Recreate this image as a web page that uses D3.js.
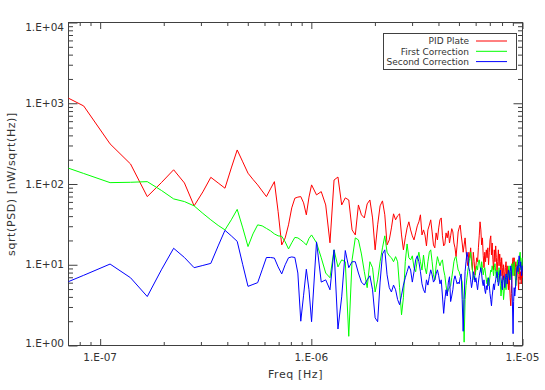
<!DOCTYPE html>
<html>
<head>
<meta charset="utf-8">
<script src="https://cdn.jsdelivr.net/npm/d3@7"></script>
<style>
body { margin: 0; background: #fff; }
svg { display: block; font-family: "DejaVu Sans", sans-serif; }
</style>
</head>
<body>
<svg id="chart"></svg>
<script>
// FFT bins: half-width bins below 1E-6 Hz, full bins above
const binHz = 5.57e-8;
const freqHz = d3.range(2, 36).map(k => k * binHz / 2)
  .concat(d3.range(18, 181).map(k => k * binHz));

const pidPlate = [
  1590, 926, 314, 177, 69.8, 104, 150, 103, 53.6, 79.8, 121, 103, 88.7, 158, 264, 188, 136,
  114, 97.5, 82, 69.8, 87, 107, 45.4, 17.6, 21.5, 31.2, 50.6, 66.7, 68.8, 69.8, 58.4, 41.5, 68.8,
  97.5, 73.3, 80.5, 55, 18.7, 112, 122, 55, 67.3, 63.4, 27, 23.4, 55, 41.5, 38, 56.7, 63.4, 38,
  15.3, 31.2, 53.6, 61.8, 41.5, 17.6, 20.3, 28.6, 42.7, 36, 40.4, 42.7, 23.4, 15.3, 21.5, 28.6,
  34, 27, 22.8, 20.3, 24.8, 30.3, 34, 41.5, 23.4,
  27, 23.4, 17.1, 27, 31, 36, 25.5, 17.6, 16.2, 24.8,
  20.3, 28.6, 36, 38, 22.8, 17.1, 18, 24.8, 21.5, 26.3,
  18.6, 22.8, 28, 25.5, 18.6, 16.2, 12.6, 17.6, 25.5, 28.6,
  31, 23.4, 18.6, 14.3, 17.6, 21.5, 15.3, 11.2, 9.7, 14.3,
  12.2, 16.2, 10.9, 8.6, 14.3, 10.9, 7.5, 9.7, 12.2, 10.9,
  16.2, 22.8, 34, 27, 17.6, 21.5, 12.9, 9.2, 14.3, 10.9,
  15.3, 12.2, 16.2, 10, 14.3, 20.3, 22.8, 13.2, 18.6, 11.5,
  8.6, 15.3, 10.9, 17.1, 12.2, 8.2, 10.9, 15.3, 9.7, 13.6,
  10.9, 7.3, 12.2, 9.2, 6.5, 10, 8.2, 5.8, 9.2, 10.9,
  7.5, 9.7, 6.1, 4.9, 8.2, 5.6, 3.9, 3.1, 4.4, 6.9,
  10.9, 12.2, 9.2, 12.2, 7.3, 9.2, 10.9, 6.5, 8.6, 10.3,
  6.9, 4.9, 7.3, 9.2, 6.5, 8.2, 5.8, 8.6, 6.9, 7.5
];

const firstCorrection = [
  195, 135, 104, 105, 107, 83.3, 65.4, 60.6, 53.6, 43.3, 36, 30.7, 27, 36, 48.5, 28.6, 16.8,
  24.1, 31.2, 30.3, 28.2, 26.3, 24.1, 22.8, 22.5, 19.2, 15.7, 18.7, 21.8, 21.5, 20.3, 19, 17.6, 21.2,
  23.4, 18.7, 12.2, 7.9, 6.9, 15.3, 9.4, 11.5, 10.9, 1.3, 11.5, 21.5, 20.3, 13.6, 8.2, 5.2, 10.9, 9.2,
  4.6, 6.5, 10.9, 16.2, 22.8, 14.3, 12.9, 12.2, 10.9, 12.6, 10.9, 5.2, 2.4, 3.9, 10.9, 18.1,
  12.2, 11.5, 12.9, 9.2, 8.2, 11.5, 14.3, 10.9, 8.6,
  13.2, 9.2, 7.7, 10.9, 14.3, 15.3, 10.9, 7.5, 6.5, 9.7,
  12.6, 10.9, 9.7, 10.9, 11.5, 8.6, 7.3, 5.5, 4.4, 4.9,
  5.3, 5.5, 6.9, 8.6, 10.9, 12.2, 12.6, 10.3, 8.6, 8.2,
  7.3, 6.9, 6.1, 3.7, 1.1, 3.7, 5.5, 6.9, 8.6, 10.3,
  12.2, 14.3, 10.9, 8.6, 7.3, 6.5, 7.3, 8.6, 9.7, 8.6,
  10.9, 11.5, 9.7, 8.2, 10.9, 9.2, 7.5, 8.6, 9.2, 7.7,
  6.5, 5.8, 6.9, 5.5, 6.1, 7.3, 8.6, 8.2, 9.7, 8.6,
  7.3, 9.2, 10.3, 8.2, 6.9, 8.6, 6.1, 7.3, 9.2, 7.7,
  5.6, 4.1, 4.9, 6.5, 5.5, 3.7, 4.6, 6.9, 5.8, 4.9,
  6.1, 7.7, 6.9, 8.6, 9.7, 7.7, 6.5, 8.2, 9.2, 10.3,
  8.6, 7.3, 9.7, 10.9, 8.6, 6.9, 5.5, 7.3, 9.7, 11.5,
  9.2, 7.7, 10.9, 12.9, 14.3, 10.9, 8.6, 10.9, 12.2, 9.7
];

const secondCorrection = [
  4.77, 7.4, 10.2, 6.9, 4.04, 8.65, 16, 12.3, 9.2, 9.8, 10.4, 17.1, 26.7, 22.8, 19.5, 10, 5.4,
  5.7, 6.0, 8.65, 12.3, 12.3, 12.1, 9.4, 7.7, 10, 12.2, 12.5, 12.3, 7.9, 2.0, 4.2, 8.8, 4.9,
  1.97, 19.2, 6.1, 6.5, 4.9, 15.3, 1.6, 4.0, 15, 9.2, 10.9, 10.9, 7.9, 6.1, 5.6, 6.5, 7.3, 4.9,
  2.2, 1.97, 6.1, 13.6, 15.3, 7.5, 5.2, 4.6, 5.6, 4.9, 3.7, 3.2, 4.2, 5.6, 6.9, 8.2,
  9.7, 8.6, 6.1, 8.2, 11.5, 12.9, 10.9, 8.2, 5.8,
  4.9, 4.5, 6.5, 5.6, 7.1, 8.65, 7.5, 6.1, 6.5, 7.7,
  8.65, 7.3, 5.8, 6.5, 4.1, 2.5, 3.7, 4.9, 4.1, 6.1,
  7.1, 3.5, 4.1, 4.9, 6.5, 7.3, 6.5, 5.8, 6.1, 5.8,
  6.9, 7.7, 3.7, 1.5, 3.7, 8.2, 10.9, 14.3, 12.2, 9.2,
  8.2, 6.5, 5.2, 6.1, 8.2, 7.3, 6.1, 6.9, 5.8, 4.9,
  6.1, 7.3, 8.2, 9.2, 7.7, 6.1, 5.5, 6.5, 4.9, 4.4,
  5.5, 4.9, 6.1, 6.9, 5.5, 4.4, 3.7, 3.1, 4.1, 4.9,
  5.8, 4.9, 5.8, 6.5, 7.3, 8.2, 6.9, 5.5, 6.1, 7.7,
  8.6, 6.9, 5.8, 4.9, 6.5, 7.3, 6.1, 5.2, 6.5, 7.7,
  6.9, 5.8, 7.3, 8.6, 7.7, 6.5, 8.2, 9.7, 8.6, 5.5,
  3.0, 1.4, 3.5, 5.2, 4.1, 4.9, 6.1, 7.7, 9.2, 9.7,
  8.2, 10.9, 12.9, 11.5, 9.2, 10.9, 8.6, 7.3, 9.7, 8.2
];

const seriesNames = ["PID Plate", "First Correction", "Second Correction"];
const seriesColors = ["#ff0000", "#00ff00", "#0000ff"];
const xTicks = [1e-7, 1e-6, 1e-5];
const xTickLabels = ["1.E-07", "1.E-06", "1.E-05"];
const yTicks = [1, 10, 100, 1000, 10000];
const yTickLabels = ["1.E+00", "1.E+01", "1.E+02", "1.E+03", "1.E+04"];

function drawChart() {
  let width = 545, height = 390;
  let left = 68.5, right = 522.5, top = 22.5, bottom = 345.5;
  let axisColor = "#404040";

  let svg = d3.select("#chart").attr("width", width).attr("height", height);

  let scaleX = d3.scaleLog().domain([7.08e-8, 1e-5]).range([left, right]);
  let scaleY = d3.scaleLog().domain([1, 1e4]).range([bottom, top]);

  let isMajor = d => Math.abs(Math.log10(d) - Math.round(Math.log10(d))) < 1e-6;
  let minorX = scaleX.ticks().filter(d => !isMajor(d));
  let minorY = scaleY.ticks().filter(d => !isMajor(d));

  // ticks on all four sides, pointing inward
  let addTicks = (axis, tx, ty) => {
    svg.append("g")
      .attr("transform", `translate(${tx},${ty})`)
      .attr("color", axisColor)
      .call(axis.tickFormat(""))
      .call(g => g.select(".domain").remove());
  };
  addTicks(d3.axisBottom(scaleX).tickValues(xTicks).tickSize(-6.5), 0, bottom);
  addTicks(d3.axisBottom(scaleX).tickValues(minorX).tickSize(-3.5), 0, bottom);
  addTicks(d3.axisTop(scaleX).tickValues(xTicks).tickSize(-6.5), 0, top);
  addTicks(d3.axisTop(scaleX).tickValues(minorX).tickSize(-3.5), 0, top);
  addTicks(d3.axisLeft(scaleY).tickValues(yTicks).tickSize(-9), left, 0);
  addTicks(d3.axisLeft(scaleY).tickValues(minorY).tickSize(-4.5), left, 0);
  addTicks(d3.axisRight(scaleY).tickValues(yTicks).tickSize(-9), right, 0);
  addTicks(d3.axisRight(scaleY).tickValues(minorY).tickSize(-4.5), right, 0);

  svg.append("rect")
    .attr("x", left).attr("y", top)
    .attr("width", right - left).attr("height", bottom - top)
    .attr("fill", "none").attr("stroke", axisColor);

  // tick labels
  svg.append("g").selectAll("text")
    .data(xTicks).enter().append("text")
    .attr("x", d => scaleX(d))
    .attr("y", bottom + 15.5)
    .attr("text-anchor", "middle")
    .style("font-size", "10.5px").attr("fill", "#333")
    .text((d, i) => xTickLabels[i]);

  svg.append("g").selectAll("text")
    .data(yTicks).enter().append("text")
    .attr("x", left - 4.5)
    .attr("y", d => Math.min(Math.max(scaleY(d) + 3.5, 30.5), 346.7))
    .attr("text-anchor", "end")
    .style("font-size", "10.5px").attr("fill", "#333")
    .text((d, i) => yTickLabels[i]);

  // axis titles
  svg.append("text")
    .attr("x", (left + right) / 2).attr("y", 378)
    .attr("text-anchor", "middle")
    .style("font-size", "11px").style("letter-spacing", "0.6px").attr("fill", "#333")
    .text("Freq [Hz]");
  svg.append("text")
    .attr("transform", `translate(15,${(top + bottom) / 2}) rotate(-90)`)
    .attr("text-anchor", "middle")
    .style("font-size", "11px").style("letter-spacing", "0.6px").attr("fill", "#333")
    .text("sqrt(PSD) [nW/sqrt(Hz)]");

  // curves
  svg.append("clipPath").attr("id", "plotClip")
    .append("rect")
    .attr("x", left).attr("y", top)
    .attr("width", right - left).attr("height", bottom - top);

  let lineF = d3.line()
    .x(d => scaleX(d[0]))
    .y(d => scaleY(d[1]));

  let plot = svg.append("g").attr("clip-path", "url(#plotClip)");
  [pidPlate, firstCorrection, secondCorrection].forEach((vals, i) => {
    plot.append("path")
      .datum(freqHz.map((f, j) => [f, vals[j]]))
      .attr("d", lineF)
      .style("fill", "none")
      .style("stroke", seriesColors[i])
      .style("stroke-width", "1");
  });

  // legend
  let legend = svg.append("g");
  legend.append("rect")
    .attr("x", 383.5).attr("y", 33.5)
    .attr("width", 133).attr("height", 36)
    .attr("fill", "#fff").attr("stroke", axisColor);
  seriesNames.forEach((name, i) => {
    let cy = 41 + i * 10.3;
    legend.append("text")
      .attr("x", 469).attr("y", cy + 3.3)
      .attr("text-anchor", "end")
      .style("font-size", "9px").attr("fill", "#333")
      .text(name);
    legend.append("line")
      .attr("x1", 476).attr("x2", 507)
      .attr("y1", cy).attr("y2", cy)
      .style("stroke", seriesColors[i]);
  });
}

document.addEventListener("DOMContentLoaded", () => {
  drawChart();
});
</script>
</body>
</html>
